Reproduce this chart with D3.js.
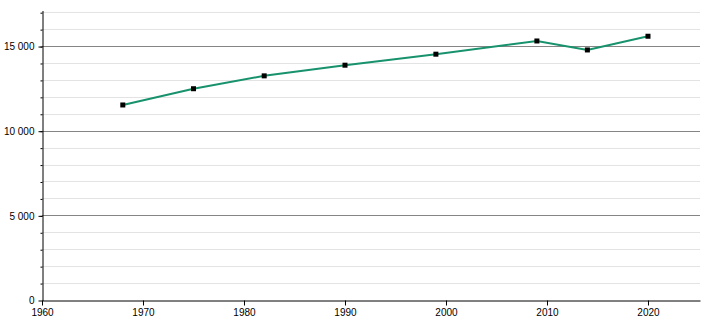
<!DOCTYPE html>
<html>
<head>
<meta charset="utf-8">
<script src="https://cdn.jsdelivr.net/npm/d3@7"></script>
<style>
  body { margin: 0; background: #fff; }
  text { font-family: "Liberation Sans", Arial, sans-serif; font-size: 10px; fill: #000; }
</style>
</head>
<body>
<svg width="710" height="320"></svg>
<script>
var years = [1968, 1975, 1982, 1990, 1999, 2009, 2014, 2020];
var values = [11520, 12480, 13240, 13870, 14520, 15300, 14770, 15580];
var xTicks = [1960, 1970, 1980, 1990, 2000, 2010, 2020];
var yMajor = [0, 5000, 10000, 15000];
var yMinor = d3.range(1000, 17001, 1000);

var svg = d3.select("svg");
var mLeft = 42, mRight = 700, mTop = 10, mBottom = 300;

var x = d3.scaleLinear().domain([1960, 2025.15]).range([mLeft, mRight]);
var y = d3.scaleLinear().domain([0, 17130]).range([mBottom, mTop]);

var fmt = function(v) { return d3.format(",")(v).replace(/,/g, " "); };

// minor grid
svg.append("g").selectAll("line")
  .data(yMinor.filter(function(d) { return d % 5000 != 0; }))
  .enter().append("line")
    .attr("x1", mLeft).attr("x2", mRight)
    .attr("y1", function(d) { return Math.round(y(d)) + 0.5; })
    .attr("y2", function(d) { return Math.round(y(d)) + 0.5; })
    .style("stroke", "#e3e3e3");

// major grid
svg.append("g").selectAll("line")
  .data(yMajor.slice(1))
  .enter().append("line")
    .attr("x1", mLeft).attr("x2", mRight)
    .attr("y1", function(d) { return Math.round(y(d)) + 0.5; })
    .attr("y2", function(d) { return Math.round(y(d)) + 0.5; })
    .style("stroke", "#858585");

// y minor ticks
svg.append("g")
  .attr("transform", "translate(" + (mLeft + 0.5) + ",0.5)")
  .call(d3.axisLeft(y).tickValues(yMinor).tickSize(2).tickFormat(""))
  .call(function(g) { g.select(".domain").remove(); });

// y axis
svg.append("g")
  .attr("transform", "translate(" + (mLeft + 0.5) + ",0.5)")
  .call(d3.axisLeft(y).tickValues(yMajor).tickSizeInner(4).tickSizeOuter(0).tickPadding(4).tickFormat(fmt))
  .call(function(g) { g.selectAll("text").style("font-size", "10px").attr("font-family", null); });

// x axis
svg.append("g")
  .attr("transform", "translate(0," + (mBottom + 0.5) + ")")
  .call(d3.axisBottom(x).tickValues(xTicks).tickSizeInner(5).tickSizeOuter(0).tickPadding(3).tickFormat(d3.format("d")))
  .call(function(g) { g.selectAll("text").style("font-size", "10px").attr("font-family", null); });

svg.selectAll(".domain").style("stroke", "#000");
svg.selectAll(".tick line").style("stroke", "#000");

var data = years.map(function(d, i) { return [d, values[i]]; });

svg.append("path")
  .datum(data)
  .attr("d", d3.line().x(function(d) { return x(d[0]); }).y(function(d) { return y(d[1]); }))
  .style("fill", "none")
  .style("stroke", "#17926d")
  .style("stroke-width", 2);

svg.selectAll(".pt")
  .data(data)
  .enter().append("rect")
    .attr("class", "pt")
    .attr("x", function(d) { return x(d[0]) - 2.5; })
    .attr("y", function(d) { return y(d[1]) - 2.5; })
    .attr("width", 5)
    .attr("height", 5)
    .style("fill", "#000");
</script>
</body>
</html>
